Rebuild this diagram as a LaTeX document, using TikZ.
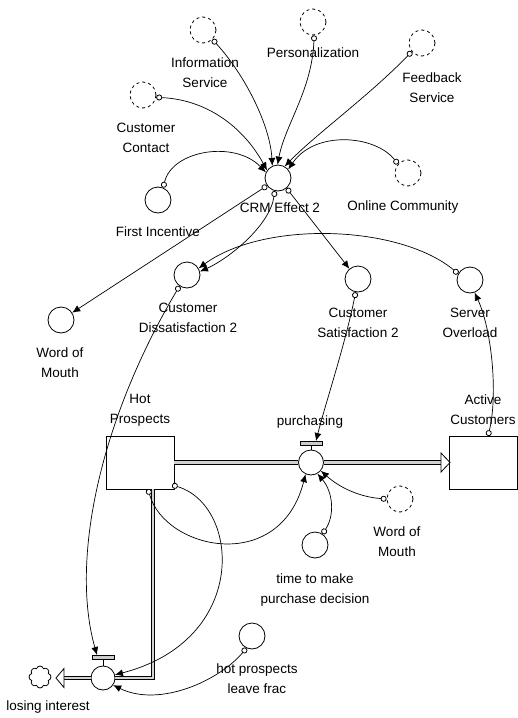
\documentclass[tikz,border=0pt]{standalone}
\usepackage{fontspec}
\setmainfont{Liberation Sans}
\usetikzlibrary{arrows.meta,shapes.symbols,calc}
\begin{document}
\begin{tikzpicture}[x=1pt,y=-1pt,
  aux/.style={circle,draw,line width=0.8pt,minimum size=26pt,inner sep=0pt,fill=white},
  ghost/.style={aux,dash pattern=on 3pt off 3pt},
  valve/.style={aux,minimum size=25pt},
  stock/.style={rectangle,draw,line width=0.8pt,minimum width=68pt,minimum height=53pt,fill=white,inner sep=0pt},
  lbl/.style={font=\fontsize{13.5}{20}\selectfont,align=center,inner sep=0pt},
  conn/.style={line width=0.7pt,{Circle[fill=white,length=6pt,width=6pt,line width=0.8pt]}-{Latex[length=8pt,width=7pt]}},
  pipe/.style={line width=0.8pt,double=gray!35,double distance=2.6pt},
  hollow/.style={line width=0.8pt,fill=white},
  bar/.style={line width=0.6pt,fill=gray!40},
]
\useasboundingbox (0,0) rectangle (518,718);

% ghosts
\node[ghost] (gInfo) at (203,30) {};
\node[ghost] (gPers) at (313,22) {};
\node[ghost] (gFeed) at (422,43) {};
\node[ghost] (gCust) at (143,95) {};
\node[ghost] (gOnline) at (408,173) {};
\node[ghost] (gWom) at (400,499) {};

% auxiliaries
\node[aux] (crm) at (278,178) {};
\node[aux] (first) at (158,200) {};
\node[aux] (wom) at (61,320) {};
\node[aux] (dis) at (187,275) {};
\node[aux] (sat) at (358,279) {};
\node[aux] (srv) at (470,280) {};
\node[aux] (time) at (315,545) {};
\node[aux] (leave) at (252,636) {};

% stocks
\node[stock] (hot) at (140,462.5) {};
\node[stock] (act) at (483.5,462.5) {};

% valves
\node[valve] (purch) at (311,462.5) {};
\node[valve,minimum size=24pt] (lose) at (103,678) {};
\node[cloud,draw,cloud puffs=8,minimum width=22pt,minimum height=22pt,aspect=1,inner sep=0pt,line width=0.8pt] (cloud) at (40,677) {};

% helper coordinates
\coordinate (purchArr) at (441,462.5);
\coordinate (purchT) at (316,441);
\coordinate (loseT) at (97,655);
\coordinate (pipeCorner) at (153,678);
\coordinate (pipeTop) at (153,489);
\coordinate (loseArr) at (64,678);
\coordinate (hotT1) at (148,489);
\coordinate (hotT2) at (172,485);
\coordinate (actT) at (488,436);

% flows
\draw[pipe] (hot.east) -- (purch);
\draw[pipe] (purch) -- (purchArr);
\draw[hollow] (441,453) -- (450,462.5) -- (441,472) -- cycle;
\draw[pipe] (pipeTop) -- (pipeCorner) -- (lose);
\draw[pipe] (lose) -- (loseArr);
\draw[hollow] (64,668.5) -- (56,678) -- (64,687.5) -- cycle;

% valve bars
\draw[bar] (300,441) rectangle (322,445);
\draw[line width=0.6pt] (311,445) -- (purch.north);
\draw[bar] (92,655) rectangle (114,659.5);
\draw[line width=0.6pt] (103,659.5) -- (lose.north);

% connectors
\draw[conn] (gInfo.-45) .. controls (245,75) and (270,125) .. (crm.115);
\draw[conn] (gPers.-85) .. controls (312,90) and (285,125) .. (crm.92);
\draw[conn] (gFeed.-140) .. controls (370,95) and (315,135) .. (crm.60);
\draw[conn] (gCust.-10) .. controls (210,100) and (245,130) .. (crm.145);
\draw[conn] (first.67) .. controls (172,150) and (235,140) .. (crm.155);
\draw[conn] (gOnline.138) .. controls (375,135) and (315,130) .. (crm.40);
\draw[conn] (crm.-145) -- (wom);
\draw[conn] (crm.-104) .. controls (270,225) and (230,258) .. (dis.15);
\draw[conn] (crm.-50) -- (sat.130);
\draw[conn] (srv.152) .. controls (400,225) and (265,220) .. (dis.30);
\draw[conn] (dis.-124) .. controls (100,420) and (70,560) .. (loseT);
\draw[conn] (sat.-100) .. controls (345,345) and (325,405) .. (purchT);
\draw[conn] (actT) .. controls (498,395) and (492,330) .. (srv.-70);
\draw[conn] (hotT2) .. controls (240,505) and (250,640) .. (lose.15);
\draw[conn] (hotT1) .. controls (165,550) and (280,575) .. (purch.-115);
\draw[conn] (time.56) .. controls (335,515) and (333,492) .. (purch.-60);
\draw[conn] (gWom.180) .. controls (360,497) and (340,488) .. (purch.-40);
\draw[conn] (leave.-115) .. controls (220,680) and (160,708) .. (lose.-35);

% labels
\node[lbl] (lInfo) at (205,73) {Information\\Service};
\node[lbl] (lPers) at (313,53) {Personalization};
\node[lbl] (lFeed) at (432,88) {Feedback\\Service};
\node[lbl] (lCust) at (146,138) {Customer\\Contact};
\node[lbl] (lFirst) at (158,232) {First Incentive};
\node[lbl] (lCrm) at (280,208) {CRM Effect 2};
\node[lbl] (lOnline) at (403,207) {Online Community};
\node[lbl] (lDis) at (188,318) {Customer\\Dissatisfaction 2};
\node[lbl] (lWom) at (60,363) {Word of\\Mouth};
\node[lbl] (lSat) at (358,323) {Customer\\Satisfaction 2};
\node[lbl] (lSrv) at (470,323) {Server\\Overload};
\node[lbl] (lHot) at (140,410) {Hot\\Prospects};
\node[lbl] (lPurch) at (310,422) {purchasing};
\node[lbl] (lAct) at (483,410) {Active\\Customers};
\node[lbl] (lWom2) at (397,542) {Word of\\Mouth};
\node[lbl] (lTime) at (315,590) {time to make\\purchase decision};
\node[lbl] (lLeave) at (257,679) {hot prospects\\leave frac};
\node[lbl] (lLose) at (48,707) {losing interest};
\end{tikzpicture}
\end{document}
